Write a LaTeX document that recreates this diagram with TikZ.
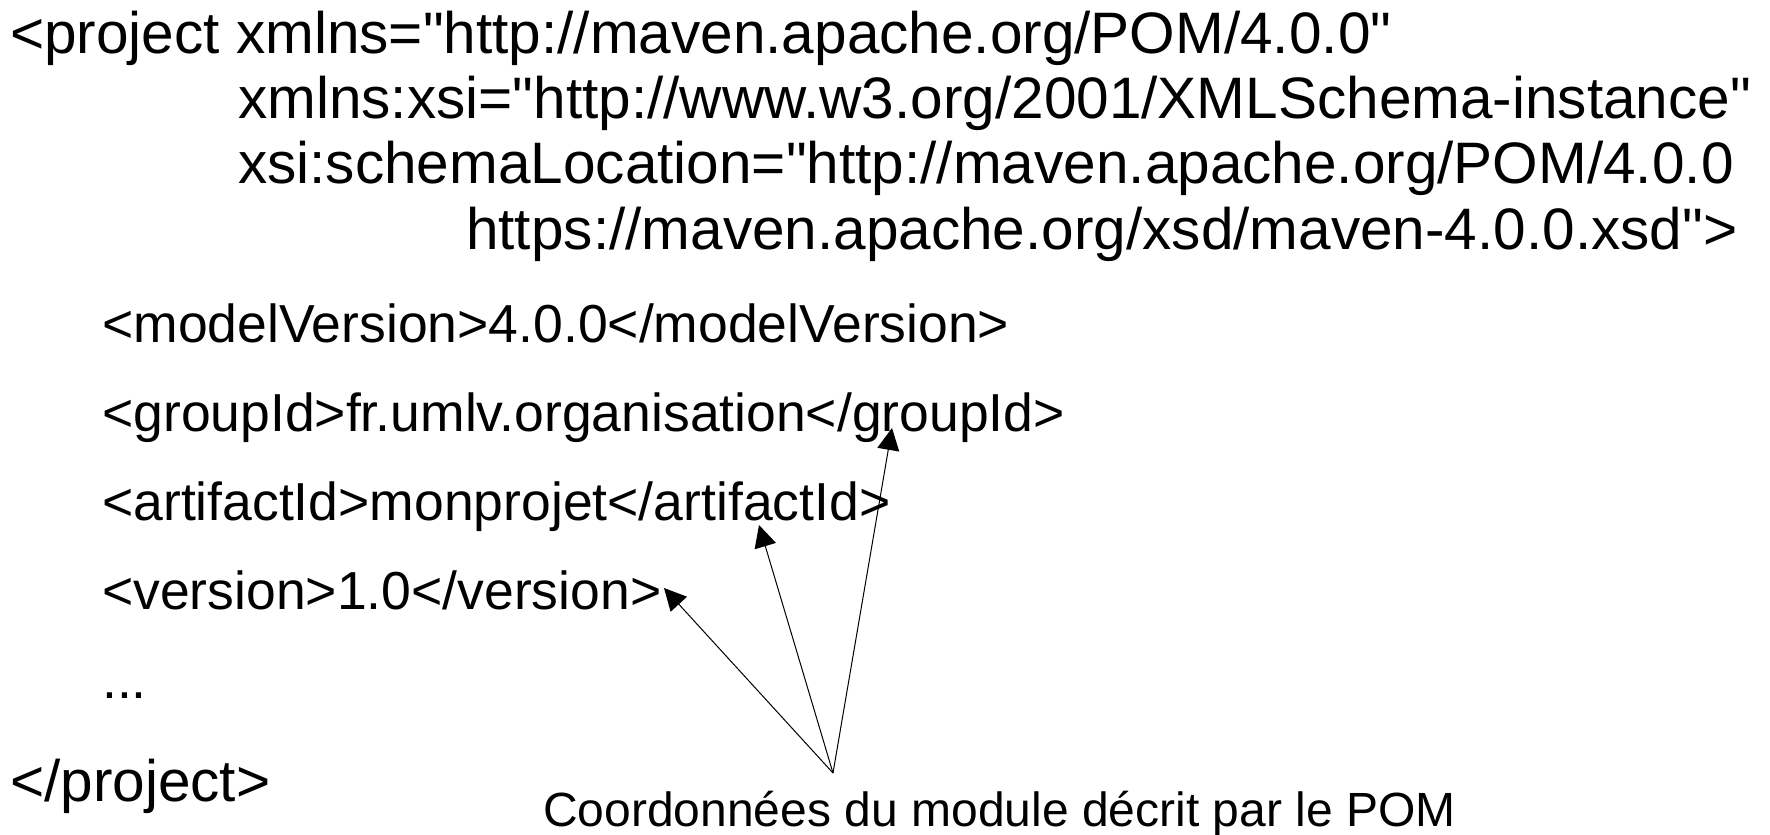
\documentclass[tikz,border=0pt]{standalone}
\usepackage{fontspec}
% plain family: keeps the straight " of the XML source
\newfontfamily\codefont{Liberation Sans}
\usetikzlibrary{arrows.meta}
\begin{document}
\begin{tikzpicture}[x=1pt,y=-1pt,
  big/.style={anchor=base west,inner sep=0pt,font=\codefont\fontsize{58.5}{66}\selectfont},
  body/.style={anchor=base west,inner sep=0pt,font=\codefont\fontsize{53.5}{60}\selectfont},
  caption/.style={anchor=base west,inner sep=0pt,font=\codefont\fontsize{48}{56}\selectfont},
  pointer/.style={draw=black,line width=1pt,-{Triangle[length=22pt,width=22pt]}}]
\useasboundingbox (0,0) rectangle (1770,835);
% opening tag with its attributes
\node[big] (l1) at (10,53)  {<project xmlns="http://maven.apache.org/POM/4.0.0"};
\node[big] (l2) at (238,118) {xmlns:xsi="http://www.w3.org/2001/XMLSchema-instance"};
\node[big] (l3) at (238,183) {xsi:schemaLocation="http://maven.apache.org/POM/4.0.0};
\node[big] (l4) at (466,249) {https://maven.apache.org/xsd/maven-4.0.0.xsd">};
% child elements
\node[body] (mv) at (102,342) {<modelVersion>4.0.0</modelVersion>};
\node[body] (gid) at (102,431) {<groupId>fr.umlv.organisation</groupId>};
\node[body] (aid) at (102,520) {<artifactId>monprojet</artifactId>};
\node[body] (ver) at (102,609) {<version>1.0</version>};
\node[body] (dots) at (102,698) {...};
\node[big] (close) at (10,801) {</project>};
% caption and its pointers
\node[caption] (cap) at (543,826) {Coordonnées du module décrit par le POM};
\coordinate (apex) at (833,773);
\coordinate (tver) at (664,588);
\coordinate (taid) at (759,525);
\coordinate (tgid) at (892,428);
\draw[pointer] (apex) -- (tver);
\draw[pointer] (apex) -- (taid);
\draw[pointer] (apex) -- (tgid);
\end{tikzpicture}
\end{document}
